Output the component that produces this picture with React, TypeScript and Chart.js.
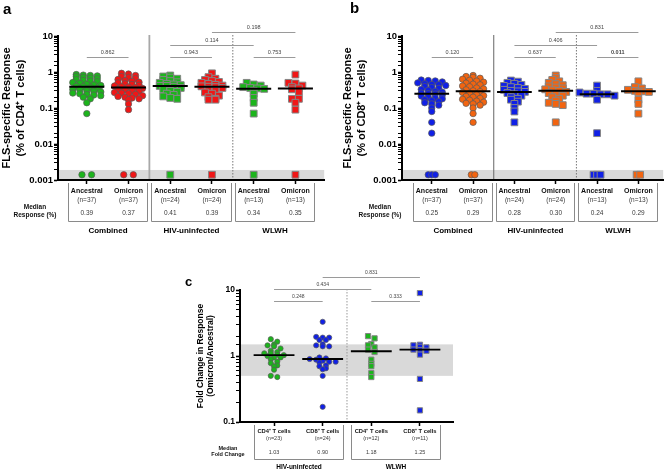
import React, { useEffect, useRef } from 'react';
import { Chart, registerables } from 'chart.js';
Chart.register(...registerables);

const FONT = '"Liberation Sans", Arial, Helvetica, sans-serif';

// ---------------- shared (panels a & b) ----------------
const abGroups = ['Combined', 'HIV-uninfected', 'WLWH'];
const abCategories = ['Ancestral', 'Omicron', 'Ancestral', 'Omicron', 'Ancestral', 'Omicron'];
const abN = [37, 37, 24, 24, 13, 13];
const NON_RESPONDER = 0.0014; // plotted inside the grey "no response" band
const abBand = [0.001, 0.0019];
const abBracketPairs = [[0, 1], [2, 3], [2, 4], [3, 5], [4, 5]];
const abBracketLevels = [2.6, 2.6, 5.7, 12.9, 2.6];

// ---------------- panel a: CD4+ ----------------
const cd4CombinedAncestral = [0.85, 0.82, 0.8, 0.78, 0.75, 0.71, 0.68, 0.65, 0.62, 0.59, 0.56, 0.54, 0.51, 0.49, 0.46, 0.44, 0.42, 0.4, 0.39, 0.37, 0.35, 0.33, 0.32, 0.3, 0.29, 0.28, 0.26, 0.25, 0.24, 0.23, 0.22, 0.2, 0.18, 0.14, 0.07];
const cd4CombinedOmicron = [0.92, 0.88, 0.8, 0.75, 0.7, 0.66, 0.62, 0.58, 0.55, 0.52, 0.5, 0.47, 0.45, 0.43, 0.41, 0.39, 0.38, 0.37, 0.35, 0.33, 0.32, 0.3, 0.29, 0.27, 0.26, 0.25, 0.24, 0.22, 0.21, 0.2, 0.19, 0.18, 0.17, 0.13, 0.09];
const cd4HivNegAncestral = [0.8, 0.75, 0.7, 0.65, 0.6, 0.56, 0.52, 0.5, 0.47, 0.45, 0.43, 0.41, 0.41, 0.39, 0.36, 0.33, 0.3, 0.28, 0.25, 0.23, 0.21, 0.19, 0.18];
const cd4HivNegOmicron = [0.92, 0.72, 0.65, 0.6, 0.56, 0.53, 0.5, 0.47, 0.44, 0.42, 0.4, 0.39, 0.38, 0.36, 0.33, 0.3, 0.27, 0.25, 0.22, 0.2, 0.18, 0.17, 0.17];
const cd4WlwhAncestral = [0.5, 0.45, 0.42, 0.38, 0.36, 0.35, 0.34, 0.3, 0.25, 0.19, 0.14, 0.07];
const cd4WlwhOmicron = [0.85, 0.5, 0.48, 0.42, 0.38, 0.35, 0.33, 0.28, 0.18, 0.18, 0.14, 0.09];
const cd4NonResponders = [2, 2, 1, 1, 1, 1];
const cd4Medians = [0.39, 0.37, 0.41, 0.39, 0.34, 0.35];
const cd4PValues = ['0.862', '0.943', '0.114', '0.198', '0.753'];

// ---------------- panel b: CD8+ ----------------
const cd8CombinedAncestral = [0.6, 0.58, 0.565, 0.53, 0.5, 0.47, 0.45, 0.445, 0.42, 0.395, 0.37, 0.35, 0.33, 0.31, 0.29, 0.275, 0.26, 0.25, 0.245, 0.23, 0.215, 0.2, 0.19, 0.18, 0.17, 0.16, 0.15, 0.14, 0.13, 0.12, 0.1, 0.08, 0.04, 0.02];
const cd8CombinedOmicron = [0.8, 0.75, 0.71, 0.67, 0.63, 0.59, 0.56, 0.52, 0.49, 0.46, 0.44, 0.41, 0.39, 0.36, 0.34, 0.32, 0.3, 0.285, 0.27, 0.25, 0.235, 0.22, 0.21, 0.2, 0.185, 0.175, 0.165, 0.155, 0.145, 0.135, 0.13, 0.12, 0.1, 0.07, 0.04];
const cd8HivNegAncestral = [0.58, 0.54, 0.5, 0.47, 0.44, 0.41, 0.38, 0.36, 0.34, 0.32, 0.3, 0.29, 0.28, 0.26, 0.24, 0.22, 0.2, 0.18, 0.17, 0.15, 0.13, 0.1, 0.08, 0.04];
const cd8HivNegOmicron = [0.8, 0.68, 0.6, 0.55, 0.5, 0.46, 0.43, 0.4, 0.37, 0.35, 0.33, 0.31, 0.3, 0.28, 0.26, 0.24, 0.22, 0.2, 0.18, 0.16, 0.14, 0.13, 0.12, 0.04];
const cd8WlwhAncestral = [0.42, 0.3, 0.27, 0.25, 0.25, 0.24, 0.24, 0.22, 0.17, 0.02];
const cd8WlwhOmicron = [0.55, 0.38, 0.35, 0.32, 0.3, 0.29, 0.28, 0.27, 0.17, 0.13, 0.07];
const cd8NonResponders = [3, 2, 0, 0, 3, 2];
const cd8Medians = [0.25, 0.29, 0.28, 0.30, 0.24, 0.29];
const cd8PValues = ['0.120', '0.637', '0.406', '0.831', '0.011'];

// ---------------- panel c: fold change ----------------
const fcGroups = ['HIV-uninfected', 'WLWH'];
const fcCategories = ['CD4\u207A T cells', 'CD8\u207A T cells', 'CD4\u207A T cells', 'CD8\u207A T cells'];
const fcN = [23, 24, 12, 11];
const fcHivNegCD4 = [1.8, 1.65, 1.5, 1.45, 1.4, 1.3, 1.2, 1.15, 1.1, 1.1, 1.05, 1.03, 1.0, 0.95, 0.95, 0.9, 0.82, 0.78, 0.72, 0.7, 0.62, 0.5, 0.48];
const fcHivNegCD8 = [3.3, 1.95, 1.9, 1.9, 1.75, 1.75, 1.5, 1.45, 1.4, 1.4, 0.95, 0.92, 0.9, 0.88, 0.85, 0.82, 0.82, 0.8, 0.72, 0.7, 0.65, 0.63, 0.5, 0.17];
const fcWlwhCD4 = [2.0, 1.85, 1.52, 1.45, 1.35, 1.25, 1.15, 0.88, 0.76, 0.7, 0.55, 0.48];
const fcWlwhCD8 = [9.0, 1.48, 1.45, 1.38, 1.35, 1.25, 1.22, 1.2, 1.05, 0.45, 0.15];
const fcMedians = [1.03, 0.90, 1.18, 1.25];
const fcBand = [0.5, 1.5];
const fcBracketPairs = [[0, 1], [2, 3], [0, 2], [1, 3]];
const fcBracketLevels = [6.8, 6.8, 10.4, 15.7];
const fcPValues = ['0.248', '0.333', '0.434', '0.831'];

const GREEN = '#1cb41c';
const RED = '#f01616';
const BLUE = '#1020e6';
const ORANGE = '#f26410';

// GraphPad-style scatter: points in the same horizontal band are spread side by side
function binSwarm(py: number[], binH: number, spacing: number): number[] {
  const bins = new Map<number, number[]>();
  py.forEach((y, i) => {
    const b = Math.floor(y / binH);
    if (!bins.has(b)) bins.set(b, []);
    bins.get(b)!.push(i);
  });
  const out = new Array(py.length).fill(0);
  bins.forEach((ids) => {
    ids.sort((a, b) => py[a] - py[b]);
    const n = ids.length;
    ids.forEach((id, k) => { out[id] = (k - (n - 1) / 2) * spacing; });
  });
  return out;
}

const isPow10 = (v: number) => Math.abs(Math.log10(v) - Math.round(Math.log10(v))) < 1e-9;

type Spec = any;

const panelA: Spec = {
  left: 0, top: 0, width: 330, height: 240,
  letter: 'a', letterXY: [3, 14], letterSize: 15,
  series: [cd4CombinedAncestral, cd4CombinedOmicron, cd4HivNegAncestral, cd4HivNegOmicron, cd4WlwhAncestral, cd4WlwhOmicron],
  nonResponders: cd4NonResponders, medians: cd4Medians,
  colors: [GREEN, RED, GREEN, RED, GREEN, RED],
  shapes: ['circle', 'circle', 'rect', 'rect', 'rect', 'rect'],
  rCircle: 3.2, rRect: 4.8, binH: 3.3, spacing: 7, nrSpacing: 9.6,
  yMin: 0.001, yMax: 10, band: abBand, xRange: [-0.69, 5.69],
  separators: [{ at: 1.5, dash: [], color: '#a8a8a8', width: 1.8 }, { at: 3.5, dash: [1.5, 1.5], color: '#777', width: 1 }],
  bracketPairs: abBracketPairs, bracketLevels: abBracketLevels, pValues: cd4PValues, boldP: [],
  pad: { top: 36, left: 0, right: 5 }, axisW: 58, axisH: 60,
  title: ['FLS-specific Response', '(% of CD4\u207A T cells)'], titleSize: 11, titleLH: 14, tickSize: 9.5, pSize: 5.5,
  medianHalf: 0.42, medianWidth: 2,
  table: {
    cats: abCategories, n: abN, groups: abGroups, nameY: 191, nY: 200, medY: 213, boxTop: 183, boxBottom: 221, groupY: 231,
    rowLabel: ['Median', 'Response (%)'], rowLabelX: 35, rowLabelY: [207, 215], nameSize: 7, size: 6.5, groupSize: 8, rowSize: 6.5, boxHalf: 0.45,
  },
};

const panelB: Spec = {
  ...panelA,
  left: 330, width: 339,
  letter: 'b', letterXY: [20, 13],
  series: [cd8CombinedAncestral, cd8CombinedOmicron, cd8HivNegAncestral, cd8HivNegOmicron, cd8WlwhAncestral, cd8WlwhOmicron],
  nonResponders: cd8NonResponders, medians: cd8Medians,
  colors: [BLUE, ORANGE, BLUE, ORANGE, BLUE, ORANGE],
  nrSpacing: 3.5,
  xRange: [-0.72, 5.6],
  separators: [{ at: 1.5, dash: [], color: '#666', width: 1 }, { at: 3.5, dash: [1.5, 1.5], color: '#777', width: 1 }],
  pValues: cd8PValues, boldP: [4],
  pad: { top: 36, left: 11, right: 4 }, axisW: 61,
  title: ['FLS-specific Response', '(% of CD8\u207A T cells)'],
  table: { ...panelA.table, rowLabelX: 50 },
};

const panelC: Spec = {
  left: 150, top: 250, width: 320, height: 221,
  letter: 'c', letterXY: [35, 36], letterSize: 13,
  series: [fcHivNegCD4, fcHivNegCD8, fcWlwhCD4, fcWlwhCD8],
  nonResponders: [0, 0, 0, 0], medians: fcMedians,
  colors: [GREEN, BLUE, GREEN, BLUE],
  shapes: ['circle', 'circle', 'rect', 'rect'],
  rCircle: 2.6, rRect: 3.7, binH: 3.4, spacing: 6.5, nrSpacing: 4,
  yMin: 0.1, yMax: 10, band: fcBand, xRange: [-0.7, 3.68],
  separators: [{ at: 1.5, dash: [1.5, 1.5], color: '#999', width: 1 }],
  bracketPairs: fcBracketPairs, bracketLevels: fcBracketLevels, pValues: fcPValues, boldP: [],
  pad: { top: 40, left: 46, right: 17 }, axisW: 44, axisH: 49,
  title: ['Fold Change in Response', '(Omicron/Ancestral)'], titleSize: 8.5, titleLH: 10, tickSize: 8.5, pSize: 5,
  medianHalf: 0.42, medianWidth: 1.8,
  table: {
    cats: fcCategories, n: fcN, groups: fcGroups, nameY: 181, nY: 188, medY: 202, boxTop: 175, boxBottom: 209, groupY: 217,
    rowLabel: ['Median', 'Fold Change'], rowLabelX: 78, rowLabelY: [198, 204], nameSize: 5.8, size: 5.5, groupSize: 6.5, rowSize: 5.5, boxHalf: 0.42,
  },
};

function Panel({ spec }: { spec: Spec }) {
  const ref = useRef<HTMLCanvasElement>(null);
  useEffect(() => {
    const canvas = ref.current;
    if (!canvas) return;
    const nG = spec.series.length;
    const medianSets = spec.medians.map((m: number, i: number) => ({
      type: 'line', showLine: true, order: -1,
      data: [{ x: i - spec.medianHalf, y: m }, { x: i + spec.medianHalf, y: m }],
      borderColor: '#000', borderWidth: spec.medianWidth, pointRadius: 0, fill: false,
    }));
    const pointSets = spec.series.map((vals: number[], gi: number) => ({
      type: 'scatter', order: 1,
      data: vals.map((v) => ({ x: gi, y: v })),
      pointStyle: spec.shapes[gi],
      pointRadius: spec.shapes[gi] === 'rect' ? spec.rRect : spec.rCircle,
      backgroundColor: spec.colors[gi],
      borderColor: spec.shapes[gi] === 'rect' ? '#858585' : '#5a5a5a',
      borderWidth: spec.shapes[gi] === 'rect' ? 1 : 0.7,
    }));

    const deco = {
      id: 'deco',
      beforeDraw(chart: any) {
        const { ctx, chartArea: ca, scales: { x, y } } = chart;
        ctx.save();
        const b0 = y.getPixelForValue(spec.band[0]);
        const b1 = y.getPixelForValue(spec.band[1]);
        ctx.fillStyle = '#d9d9d9';
        ctx.fillRect(ca.left, b1, ca.right - ca.left, b0 - b1);
        spec.separators.forEach((s: any) => {
          const px = x.getPixelForValue(s.at);
          ctx.strokeStyle = s.color; ctx.lineWidth = s.width; ctx.setLineDash(s.dash);
          ctx.beginPath(); ctx.moveTo(px, ca.top - 1); ctx.lineTo(px, ca.bottom); ctx.stroke();
        });
        ctx.restore();
      },
      afterDraw(chart: any) {
        const { ctx, scales: { x, y } } = chart;
        ctx.save();
        ctx.setLineDash([]);
        // significance brackets
        spec.bracketPairs.forEach((pair: number[], i: number) => {
          const x0 = x.getPixelForValue(pair[0]);
          const x1 = x.getPixelForValue(pair[1]);
          const py = Math.round(y.getPixelForValue(spec.bracketLevels[i])) + 0.5;
          ctx.strokeStyle = '#9a9a9a'; ctx.lineWidth = 1.2;
          ctx.beginPath(); ctx.moveTo(x0, py); ctx.lineTo(x1, py); ctx.stroke();
          ctx.fillStyle = '#444';
          ctx.font = `${spec.boldP.includes(i) ? 'bold ' : ''}${spec.pSize}px ${FONT}`;
          ctx.textAlign = 'center'; ctx.textBaseline = 'middle';
          ctx.fillText(spec.pValues[i], (x0 + x1) / 2, py - 5);
        });
        // table below the axis
        const t = spec.table;
        ctx.textAlign = 'center'; ctx.textBaseline = 'middle';
        t.cats.forEach((name: string, i: number) => {
          const px = x.getPixelForValue(i);
          ctx.fillStyle = '#111';
          ctx.font = `bold ${t.nameSize}px ${FONT}`;
          ctx.fillText(name, px, t.nameY);
          ctx.fillStyle = '#3a3a3a';
          ctx.font = `${t.size}px ${FONT}`;
          ctx.fillText(`(n=${t.n[i]})`, px, t.nY);
          ctx.fillText(spec.medians[i].toFixed(2), px, t.medY);
        });
        t.groups.forEach((g: string, gi: number) => {
          const x0 = Math.round(x.getPixelForValue(gi * 2 - t.boxHalf)) + 0.5;
          const x1 = Math.round(x.getPixelForValue(gi * 2 + 1 + t.boxHalf)) + 0.5;
          ctx.strokeStyle = '#8a8a8a'; ctx.lineWidth = 1;
          ctx.beginPath();
          ctx.moveTo(x0, t.boxTop); ctx.lineTo(x0, t.boxBottom + 0.5); ctx.lineTo(x1, t.boxBottom + 0.5); ctx.lineTo(x1, t.boxTop);
          ctx.stroke();
          ctx.fillStyle = '#000';
          ctx.font = `bold ${t.groupSize}px ${FONT}`;
          ctx.fillText(g, (x0 + x1) / 2, t.groupY);
        });
        ctx.fillStyle = '#111';
        ctx.font = `bold ${t.rowSize}px ${FONT}`;
        ctx.fillText(t.rowLabel[0], t.rowLabelX, t.rowLabelY[0]);
        ctx.fillText(t.rowLabel[1], t.rowLabelX, t.rowLabelY[1]);
        // panel letter
        ctx.textAlign = 'left'; ctx.textBaseline = 'alphabetic';
        ctx.fillStyle = '#000';
        ctx.font = `bold ${spec.letterSize}px ${FONT}`;
        ctx.fillText(spec.letter, spec.letterXY[0], spec.letterXY[1]);
        ctx.restore();
      },
    };

    const chart = new Chart(canvas, {
      type: 'scatter',
      data: { datasets: [...medianSets, ...pointSets] as any },
      options: {
        responsive: false,
        animation: false,
        events: [],
        layout: { padding: { top: spec.pad.top, left: spec.pad.left, right: spec.pad.right, bottom: 0 } },
        plugins: { legend: { display: false }, tooltip: { enabled: false } },
        scales: {
          x: {
            type: 'linear', min: spec.xRange[0], max: spec.xRange[1],
            afterBuildTicks: (s: any) => { s.ticks = spec.series.map((_: any, i: number) => ({ value: i })); },
            afterFit: (s: any) => { s.height = spec.axisH; },
            ticks: { display: false },
            grid: { drawOnChartArea: false, drawTicks: true, tickLength: 4, tickColor: '#000', tickWidth: 1.5 },
            border: { display: true, color: '#000', width: 2 },
          },
          y: {
            type: 'logarithmic', min: spec.yMin, max: spec.yMax,
            afterFit: (s: any) => { s.width = spec.axisW; },
            ticks: {
              autoSkip: false, padding: 1, color: '#000',
              font: { family: FONT, size: spec.tickSize, weight: 'bold' },
              callback: (v: any) => (isPow10(Number(v)) ? String(Math.pow(10, Math.round(Math.log10(Number(v))))) : ''),
            },
            grid: {
              drawOnChartArea: false, drawTicks: true, tickLength: 4, tickColor: '#000',
              tickWidth: (c: any) => (c.tick && isPow10(c.tick.value) ? 1.6 : 1),
            },
            border: { display: true, color: '#000', width: 2 },
            title: {
              display: true, text: spec.title, color: '#000',
              font: { family: FONT, size: spec.titleSize, weight: 'bold', lineHeight: spec.titleLH / spec.titleSize },
              padding: { top: 0, bottom: 0 },
            },
          },
        },
      } as any,
      plugins: [deco],
    });

    // scatter-dot layout of the points, computed through the chart's own scales
    const xs: any = chart.scales.x;
    const ys: any = chart.scales.y;
    const ppu = xs.getPixelForValue(1) - xs.getPixelForValue(0);
    spec.series.forEach((vals: number[], gi: number) => {
      const py = vals.map((v) => ys.getPixelForValue(v));
      const off = binSwarm(py, spec.binH, spec.spacing);
      const pts = vals.map((v, k) => ({ x: gi + off[k] / ppu, y: v }));
      const nr = spec.nonResponders[gi];
      for (let k = 0; k < nr; k++) pts.push({ x: gi + ((k - (nr - 1) / 2) * spec.nrSpacing) / ppu, y: NON_RESPONDER });
      (chart.data.datasets[nG + gi] as any).data = pts;
    });
    chart.update();
    return () => chart.destroy();
  }, [spec]);
  return (
    <canvas
      ref={ref}
      width={spec.width}
      height={spec.height}
      style={{ position: 'absolute', left: spec.left, top: spec.top, width: spec.width, height: spec.height }}
    />
  );
}

export default function App() {
  return (
    <div style={{ position: 'absolute', left: 0, top: 0, width: 669, height: 471, background: '#fff', overflow: 'hidden' }}>
      <Panel spec={panelA} />
      <Panel spec={panelB} />
      <Panel spec={panelC} />
    </div>
  );
}
